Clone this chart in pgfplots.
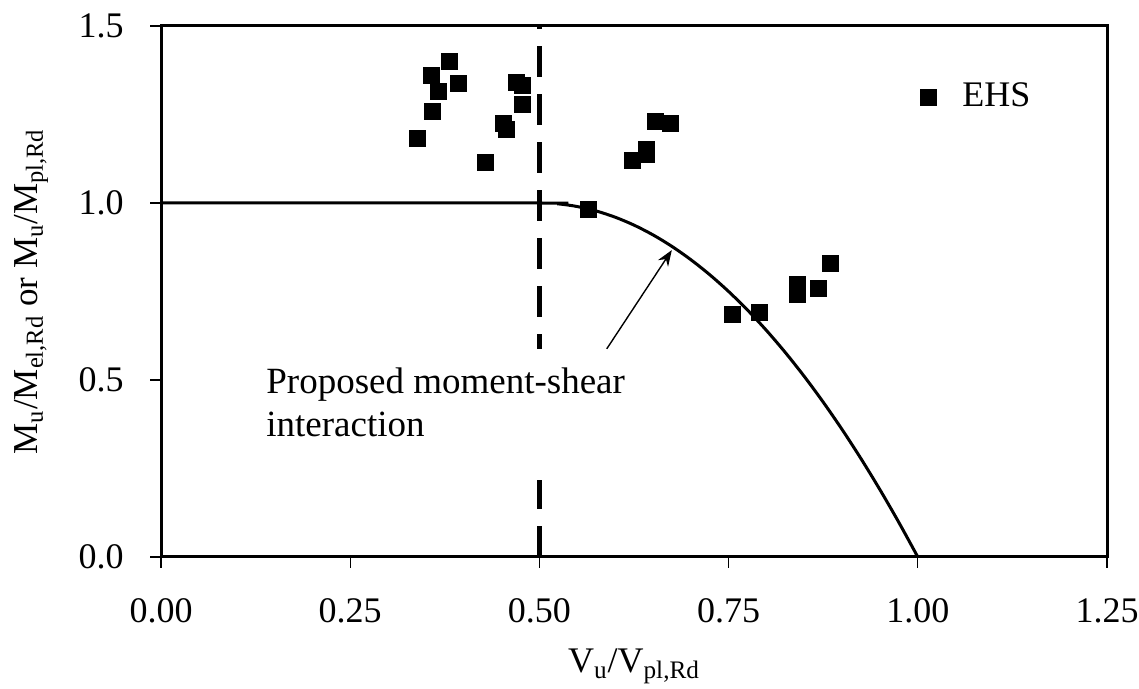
\documentclass[border=0pt]{standalone}
\usepackage{pgfplots}
\pgfplotsset{compat=1.18}
\usetikzlibrary{arrows.meta}
\usepackage{fontspec}
\setmainfont{Liberation Serif}
\begin{document}
\fontsize{18}{21}\selectfont
\begin{tikzpicture}
\begin{axis}[name=ax, scale only axis, width=473pt, height=265.5pt,
  xmin=0, xmax=1.25, ymin=0, ymax=1.5,
  xtick={0,0.25,0.5,0.75,1,1.25}, ytick={0,0.5,1,1.5},
  tick pos=left, tick align=outside, major tick length=5.5pt,
  every tick/.style={black, line width=0.6pt},
  axis line style={line width=1.5pt},
  x tick label style={/pgf/number format/.cd, fixed, fixed zerofill, precision=2, assume math mode=true, /tikz/yshift=-9pt},
  y tick label style={/pgf/number format/.cd, fixed, fixed zerofill, precision=1, assume math mode=true, /tikz/xshift=-7pt},
  ticklabel style={font=\fontsize{18}{21}\selectfont},
  xlabel={V\textsubscript{u}/V\textsubscript{pl,Rd}},
  ylabel={M\textsubscript{u}/M\textsubscript{el,Rd} or M\textsubscript{u}/M\textsubscript{pl,Rd}},
  xlabel style={font=\fontsize{18}{21}\selectfont, yshift=-1pt},
  ylabel style={font=\fontsize{17.5}{21}\selectfont, yshift=3pt},
  legend style={draw=none, fill=none, at={(0.796,0.866)}, anchor=west, font=\fontsize{18}{21}\selectfont},
  legend cell align=left,
  clip=false,
]
\addplot[only marks, mark=square*, mark size=4pt, black] coordinates {
(0.339,1.183) (0.357,1.361) (0.359,1.259) (0.366,1.316) (0.3815,1.401)
(0.393,1.337) (0.428,1.116) (0.452,1.226) (0.457,1.208) (0.470,1.340)
(0.478,1.331) (0.477,1.279) (0.565,0.983) (0.623,1.119) (0.642,1.150)
(0.642,1.138) (0.653,1.230) (0.673,1.225) (0.755,0.684) (0.791,0.690)
(0.841,0.769) (0.841,0.742) (0.869,0.759) (0.885,0.828)
};
\addlegendentry{\hspace*{11pt}EHS}
\addplot[black, line width=1.5pt, smooth, forget plot] coordinates {
(0,1) (0.5,1) (0.525,0.9975) (0.55,0.99) (0.575,0.9775) (0.6,0.96) (0.625,0.9375)
(0.65,0.91) (0.675,0.8775) (0.7,0.84) (0.725,0.7975) (0.75,0.75) (0.775,0.6975)
(0.8,0.64) (0.825,0.5775) (0.85,0.51) (0.875,0.4375) (0.9,0.36) (0.925,0.2775)
(0.95,0.19) (0.975,0.0975) (1,0)
};
\addplot[black, line width=2.3pt, dash pattern=on 15.5pt off 8.5pt, forget plot] coordinates {(0.5,0) (0.5,1.5)};
\fill[white] (axis cs:0.128,0.2175) rectangle (axis cs:0.622,0.588);
\draw[black, line width=0.7pt, -{Stealth[length=8pt,width=6pt]}] (axis cs:0.589,0.588) -- (axis cs:0.675,0.867);
\node[anchor=base west, font=\fontsize{18.5}{21}\selectfont, inner sep=0pt] at (axis cs:0.1387,0.4605) {Proposed moment-shear};
\node[anchor=base west, font=\fontsize{18.5}{21}\selectfont, inner sep=0pt] at (axis cs:0.1387,0.339) {interaction};
\end{axis}
\pgfresetboundingbox
\path[use as bounding box] ([shift={(-80.5pt,-66pt)}]ax.south west) rectangle ([shift={(16pt,13pt)}]ax.north east);
\end{tikzpicture}
\end{document}
